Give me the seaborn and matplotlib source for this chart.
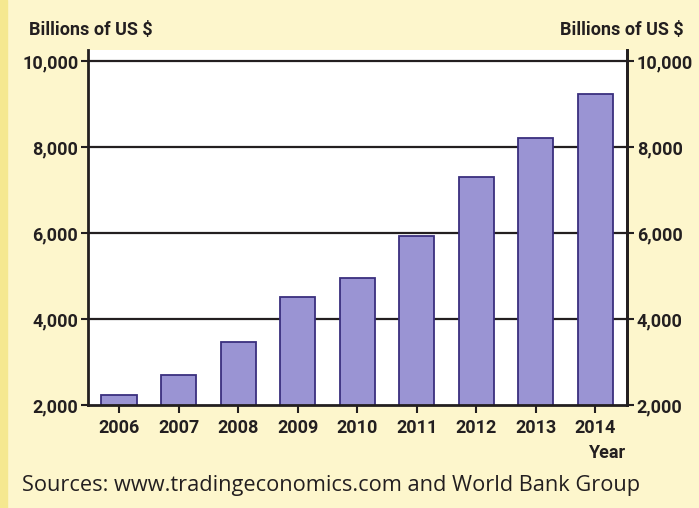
import matplotlib
matplotlib.use("Agg")
import matplotlib.pyplot as plt
import seaborn as sb
import pandas as pd
from matplotlib.patches import Rectangle

# Data (billions of US $)
years = ['2006', '2007', '2008', '2009', '2010', '2011', '2012', '2013', '2014']
values = [2225, 2690, 3460, 4505, 4960, 5920, 7310, 8215, 9230]
y_ticks = [2000, 4000, 6000, 8000, 10000]
y_tick_labels = ['2,000', '4,000', '6,000', '8,000', '10,000']

df = pd.DataFrame({'Year': years, 'Value': values})

bg = '#fdf6cc'
bar_color = '#9a94d3'
edge_color = '#3a2f7e'
ink = '#231f20'
bold_font = ['Roboto', 'DejaVu Sans']
fs = 13

sb.set_style('white')
fig = plt.figure(figsize=(6.99, 5.08), dpi=100, facecolor=bg)
ax = fig.add_axes([88 / 699, 1 - 405 / 508, (627 - 88) / 699, (405 - 50) / 508])
ax.set_facecolor('white')

# left yellow strip
fig.patches.append(Rectangle((0, 0), 7 / 699, 1, transform=fig.transFigure,
                             color='#f5e890', zorder=0))

# grid lines behind the bars
for yv in y_ticks[1:]:
    ax.axhline(yv, color=ink, lw=1.6, zorder=0)

sb.barplot(ax=ax, data=df, x='Year', y='Value', order=years, color=bar_color,
           width=0.59, edgecolor=edge_color, linewidth=1.3, saturation=1, zorder=2)

ax.set_xlim(-0.52, 8.53)
ax.set_ylim(2000, 10256)
ax.set_yticks(y_ticks)
ax.set_yticklabels(y_tick_labels, fontsize=fs, fontweight='bold', family=bold_font, color=ink)
ax.set_xticks(range(len(years)))
ax.set_xticklabels(years, fontsize=fs, fontweight='bold', family=bold_font, color=ink)
ax.set_xlabel('')
ax.set_ylabel('')

for side in ['left', 'right', 'bottom']:
    ax.spines[side].set_visible(True)
    ax.spines[side].set_color(ink)
    ax.spines[side].set_linewidth(2)
ax.spines['top'].set_visible(False)
ax.tick_params(axis='y', direction='out', length=5, width=1.5, color=ink, pad=2, left=True)
ax.tick_params(axis='x', direction='out', length=6, width=1.5, color=ink, pad=4, bottom=True)

# right axis with the same scale
ax2 = ax.twinx()
ax2.set_ylim(ax.get_ylim())
ax2.set_yticks(y_ticks)
ax2.set_yticklabels(y_tick_labels, fontsize=fs, fontweight='bold', family=bold_font, color=ink)
ax2.tick_params(axis='y', direction='out', length=5, width=1.5, color=ink, pad=2, right=True)
for side in ['left', 'top', 'bottom']:
    ax2.spines[side].set_visible(False)
ax2.spines['right'].set_color(ink)
ax2.spines['right'].set_linewidth(2)

fig.text(29 / 699, 1 - 30 / 508, 'Billions of US $', fontsize=fs, fontweight='bold',
         family=bold_font, color=ink, ha='left', va='center')
fig.text(684 / 699, 1 - 30 / 508, 'Billions of US $', fontsize=fs, fontweight='bold',
         family=bold_font, color=ink, ha='right', va='center')
fig.text(626 / 699, 1 - 453 / 508, 'Year', fontsize=fs, fontweight='bold',
         family=bold_font, color=ink, ha='right', va='center')
fig.text(22 / 699, 1 - 486 / 508, 'Sources: www.tradingeconomics.com and World Bank Group',
         fontsize=15.7, family=['Open Sans', 'DejaVu Sans'], color=ink, ha='left', va='center')

fig.savefig('out.png', dpi=100, facecolor=bg)
